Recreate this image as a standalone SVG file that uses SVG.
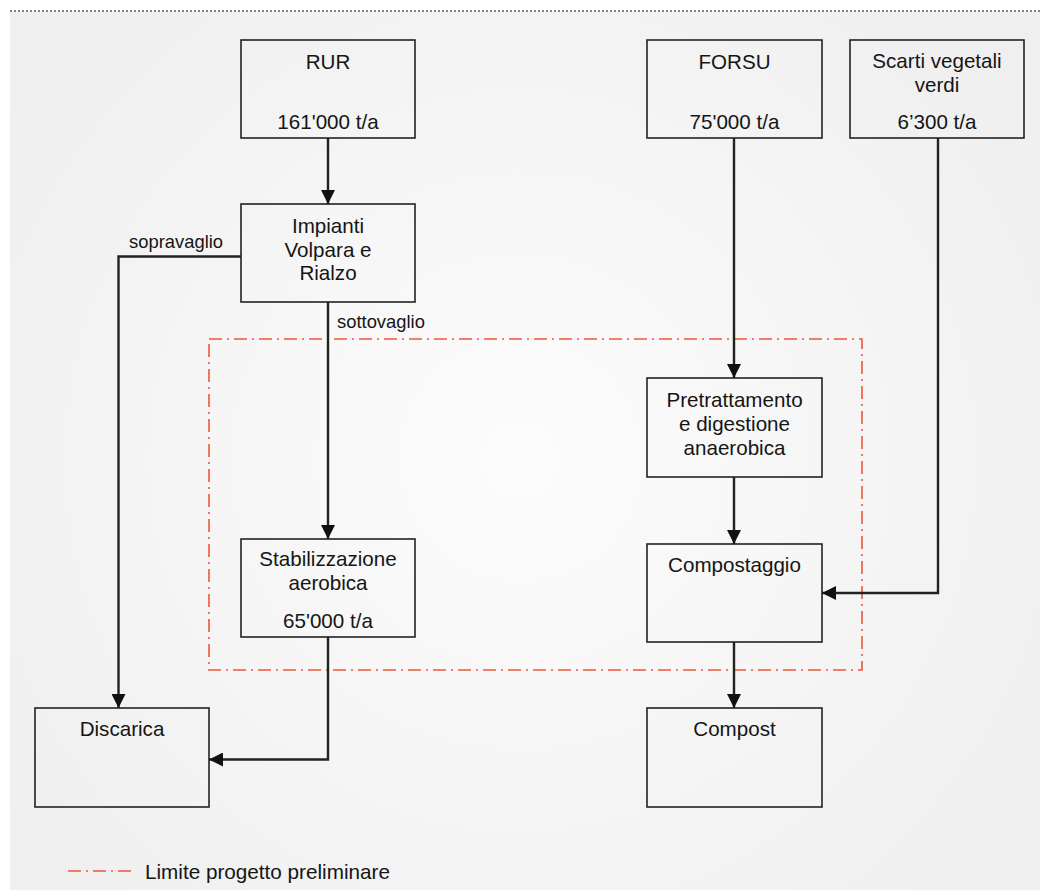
<svg xmlns="http://www.w3.org/2000/svg" width="1040" height="890" viewBox="0 0 1040 890">
<defs>
<radialGradient id="bg" cx="520" cy="460" r="620" gradientUnits="userSpaceOnUse">
<stop offset="0" stop-color="#fcfcfc"/>
<stop offset="1" stop-color="#efefef"/>
</radialGradient>
<marker id="arr" markerUnits="userSpaceOnUse" markerWidth="14" markerHeight="14" refX="14" refY="7" orient="auto">
<path d="M0,0 L14,7 L0,14 z" fill="#111"/>
</marker>
<style>
.box{fill:none;stroke:#222;stroke-width:1.6}
.t{font-family:"Liberation Sans",Arial,sans-serif;font-size:20.6px;fill:#151515;text-anchor:middle}
.lbl{font-family:"Liberation Sans",Arial,sans-serif;font-size:18.4px;fill:#151515}
.c{fill:none;stroke:#222;stroke-width:2.4}
.lim{fill:none;stroke:#f0553a;stroke-width:1.6;stroke-dasharray:13 5 2 5}
</style>
</defs>
<rect width="1040" height="890" fill="#ffffff"/>
<rect x="10" y="12" width="1030" height="878" fill="url(#bg)"/>
<line x1="10" y1="11" x2="1040" y2="11" stroke="#555" stroke-width="1.5" stroke-dasharray="2 2"/>
<rect id="limite" class="lim" x="209" y="339" width="653" height="331"/>
<g id="connectors">
<line class="c" x1="328" y1="138" x2="328" y2="204" marker-end="url(#arr)"/>
<polyline class="c" points="241,256.5 118.5,256.5 118.5,708" marker-end="url(#arr)"/>
<line class="c" x1="328" y1="302" x2="328" y2="539" marker-end="url(#arr)"/>
<polyline class="c" points="328,637 328,759.5 209,759.5" marker-end="url(#arr)"/>
<line class="c" x1="734" y1="138" x2="734" y2="378" marker-end="url(#arr)"/>
<line class="c" x1="734" y1="477" x2="734" y2="544" marker-end="url(#arr)"/>
<polyline class="c" points="938,138 938,593 822,593" marker-end="url(#arr)"/>
<line class="c" x1="734" y1="642" x2="734" y2="708" marker-end="url(#arr)"/>
<text class="lbl" x="129" y="248">sopravaglio</text>
<text class="lbl" x="337" y="328">sottovaglio</text>
</g>
<g id="rur">
<rect class="box" x="241" y="40" width="174" height="98"/>
<text class="t" x="328" y="69">RUR</text>
<text class="t" x="328" y="129">161'000 t/a</text>
</g>
<g id="forsu">
<rect class="box" x="647" y="40" width="175" height="98"/>
<text class="t" x="734.5" y="69">FORSU</text>
<text class="t" x="734.5" y="129">75'000 t/a</text>
</g>
<g id="scarti">
<rect class="box" x="850" y="40" width="174" height="98"/>
<text class="t" x="937" y="68">Scarti vegetali</text>
<text class="t" x="937" y="92">verdi</text>
<text class="t" x="937" y="129">6’300 t/a</text>
</g>
<g id="impianti">
<rect class="box" x="241" y="204" width="174" height="98"/>
<text class="t" x="328" y="233">Impianti</text>
<text class="t" x="328" y="257">Volpara e</text>
<text class="t" x="328" y="280">Rialzo</text>
</g>
<g id="pretrattamento">
<rect class="box" x="647" y="378" width="175" height="99"/>
<text class="t" x="734.5" y="407">Pretrattamento</text>
<text class="t" x="734.5" y="431">e digestione</text>
<text class="t" x="734.5" y="455">anaerobica</text>
</g>
<g id="stabilizzazione">
<rect class="box" x="241" y="539" width="174" height="98"/>
<text class="t" x="328" y="566">Stabilizzazione</text>
<text class="t" x="328" y="590">aerobica</text>
<text class="t" x="328" y="628">65'000 t/a</text>
</g>
<g id="compostaggio">
<rect class="box" x="647" y="544" width="175" height="98"/>
<text class="t" x="734.5" y="572">Compostaggio</text>
</g>
<g id="discarica">
<rect class="box" x="35" y="708" width="174" height="99"/>
<text class="t" x="122" y="736">Discarica</text>
</g>
<g id="compost">
<rect class="box" x="647" y="708" width="175" height="99"/>
<text class="t" x="734.5" y="736">Compost</text>
</g>
<g id="legend">
<line class="lim" x1="68" y1="871" x2="133" y2="871"/>
<text class="lbl" x="145" y="879" style="font-size:20.7px">Limite progetto preliminare</text>
</g>
</svg>
